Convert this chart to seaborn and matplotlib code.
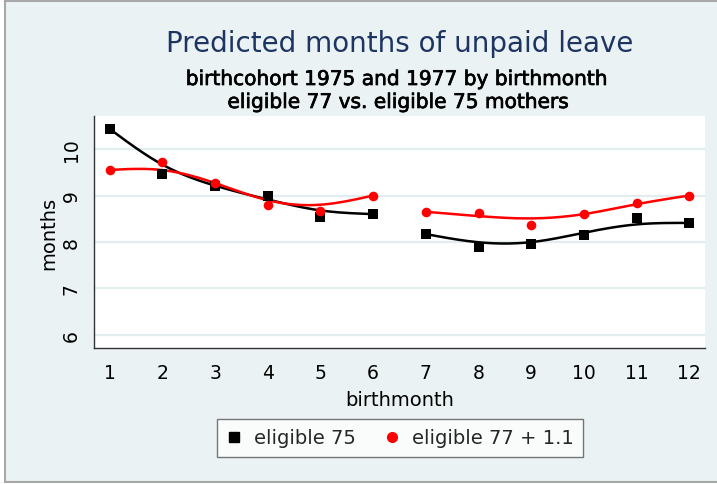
import matplotlib
matplotlib.use("Agg")
import matplotlib.pyplot as plt
from matplotlib.lines import Line2D
from matplotlib.patches import Rectangle
import matplotlib.patheffects as pe
import seaborn as sns
import numpy as np
import pandas as pd

# ---- data ----
months = [1, 2, 3, 4, 5, 6, 7, 8, 9, 10, 11, 12]
eligible75 = [10.43, 9.46, 9.20, 8.98, 8.53, 8.60, 8.17, 7.90, 7.96, 8.15, 8.51, 8.41]
eligible77 = [9.55, 9.73, 9.27, 8.80, 8.67, 9.00, 8.65, 8.62, 8.37, 8.60, 8.83, 9.00]
xticks = list(range(1, 13))
yticks = [6, 7, 8, 9, 10]
title = "Predicted months of unpaid leave"
subtitle1 = "birthcohort 1975 and 1977 by birthmonth"
subtitle2 = "eligible 77 vs. eligible 75 mothers"
labels = ["eligible 75", "eligible 77 + 1.1"]

df = pd.DataFrame({"month": months, "e75": eligible75, "e77": eligible77})


def lowess(x, y, bw=0.8):
    """Running-line lowess with tricube weights (bandwidth 0.8)."""
    x = np.asarray(x, float)
    y = np.asarray(y, float)
    n = len(x)
    k = int(np.floor((n * bw - 0.5) / 2))
    out = []
    for i in range(n):
        lo, hi = max(0, i - k), min(n - 1, i + k)
        xs, ys = x[lo:hi + 1], y[lo:hi + 1]
        delta = 1.0001 * max(x[hi] - x[i], x[i] - x[lo])
        w = np.clip(1 - (np.abs(xs - x[i]) / delta) ** 3, 0, None) ** 3
        W = w.sum()
        xm, ym = (w * xs).sum() / W, (w * ys).sum() / W
        b = (w * (xs - xm) * (ys - ym)).sum() / (w * (xs - xm) ** 2).sum()
        out.append(ym + b * (x[i] - xm))
    return np.array(out)


def natural_spline(x, y, num=200):
    x = np.asarray(x, float)
    y = np.asarray(y, float)
    n = len(x)
    h = np.diff(x)
    A = np.zeros((n, n))
    r = np.zeros(n)
    A[0, 0] = A[-1, -1] = 1
    for i in range(1, n - 1):
        A[i, i - 1] = h[i - 1]
        A[i, i] = 2 * (h[i - 1] + h[i])
        A[i, i + 1] = h[i]
        r[i] = 6 * ((y[i + 1] - y[i]) / h[i] - (y[i] - y[i - 1]) / h[i - 1])
    M = np.linalg.solve(A, r)
    xx = np.linspace(x[0], x[-1], num)
    idx = np.clip(np.searchsorted(x, xx) - 1, 0, n - 2)
    x0, x1 = x[idx], x[idx + 1]
    hh = x1 - x0
    t0, t1 = x1 - xx, xx - x0
    yy = (M[idx] * t0 ** 3 / (6 * hh) + M[idx + 1] * t1 ** 3 / (6 * hh)
          + (y[idx] / hh - M[idx] * hh / 6) * t0 + (y[idx + 1] / hh - M[idx + 1] * hh / 6) * t1)
    return xx, yy


sns.set_style("white")
plt.rcParams["font.family"] = ["DejaVu Sans"]

BG = "#EAF2F3"
GRID = "#E3EDEF"
TITLE_C = "#1E3563"

fig = plt.figure(figsize=(7.17, 4.85), dpi=100)
fig.patch.set_facecolor("white")
fig.patches.append(Rectangle((5 / 717, 2 / 485), 1.2, 481 / 485, transform=fig.transFigure,
                             facecolor=BG, edgecolor="#A8A8A8", linewidth=1.5, zorder=-10))

ax = fig.add_axes([94 / 717, 1 - 349 / 485, 611 / 717, 232 / 485])
ax.set_facecolor("white")

for lo_m, hi_m in ((1, 6), (7, 12)):
    part = df[(df.month >= lo_m) & (df.month <= hi_m)]
    for col, c in (("e75", "black"), ("e77", "red")):
        sm = lowess(part.month.values, part[col].values)
        xx, yy = natural_spline(part.month.values, sm)
        sns.lineplot(x=xx, y=yy, color=c, lw=1.8, sort=False, estimator=None, ax=ax)

sns.scatterplot(data=df, x="month", y="e75", marker="s", color="black", s=55,
                edgecolor="black", linewidth=0, ax=ax, zorder=5)
sns.scatterplot(data=df, x="month", y="e77", marker="o", color="red", s=48,
                edgecolor="red", linewidth=0, ax=ax, zorder=5)

ax.set_xlim(0.70, 12.30)
ax.set_ylim(5.72, 10.71)
ax.set_xticks(xticks)
ax.set_yticks(yticks)
ax.set_xticklabels([str(v) for v in xticks])
ax.set_yticklabels([str(v) for v in yticks])
ax.grid(axis="y", color=GRID, linewidth=1.6)
ax.grid(axis="x", visible=False)
ax.set_axisbelow(True)
for s in ("top", "right"):
    ax.spines[s].set_visible(False)
for s in ("left", "bottom"):
    ax.spines[s].set_color("#333333")
    ax.spines[s].set_linewidth(1.0)
ax.tick_params(axis="both", direction="out", length=6, width=1.0, color="#333333",
               labelsize=13.5, labelcolor="black")
ax.tick_params(axis="x", pad=4.5)
ax.tick_params(axis="y", pad=3.5, labelrotation=90)
for t in ax.get_yticklabels():
    t.set_va("center")

ax.set_xlabel("birthmonth", fontsize=14, color="black")
ax.set_ylabel("months", fontsize=14, color="black")
ax.xaxis.set_label_coords(0.5, (349 - 405.5) / 232)
ax.xaxis.label.set_va("baseline")
ax.yaxis.set_label_coords((48.5 - 94) / 611, 0.5)
ax.yaxis.label.set_va("center")

fig.text(400 / 717, 1 - 52 / 485, title, ha="center", va="baseline",
         fontsize=20, color=TITLE_C)
thick = [pe.withStroke(linewidth=0.5, foreground="black")]
fig.text(397 / 717, 1 - 86 / 485, subtitle1, ha="center", va="baseline",
         fontsize=14.5, color="black", path_effects=thick)
fig.text(398 / 717, 1 - 109 / 485, subtitle2, ha="center", va="baseline",
         fontsize=14.5, color="black", path_effects=thick)

handles = [Line2D([], [], marker="s", color="black", linestyle="none", markersize=7),
           Line2D([], [], marker="o", color="red", linestyle="none", markersize=7)]
leg = fig.legend(handles, labels, loc="center", bbox_to_anchor=(400 / 717, 1 - 439 / 485),
                 ncol=2, frameon=True, fancybox=False, fontsize=14, handlelength=0.8,
                 handletextpad=0.6, columnspacing=1.5, borderpad=0.5)
leg.get_frame().set_edgecolor("#555555")
leg.get_frame().set_linewidth(1.0)
leg.get_frame().set_facecolor("white")

fig.savefig("out.png", dpi=100, facecolor=fig.get_facecolor())
